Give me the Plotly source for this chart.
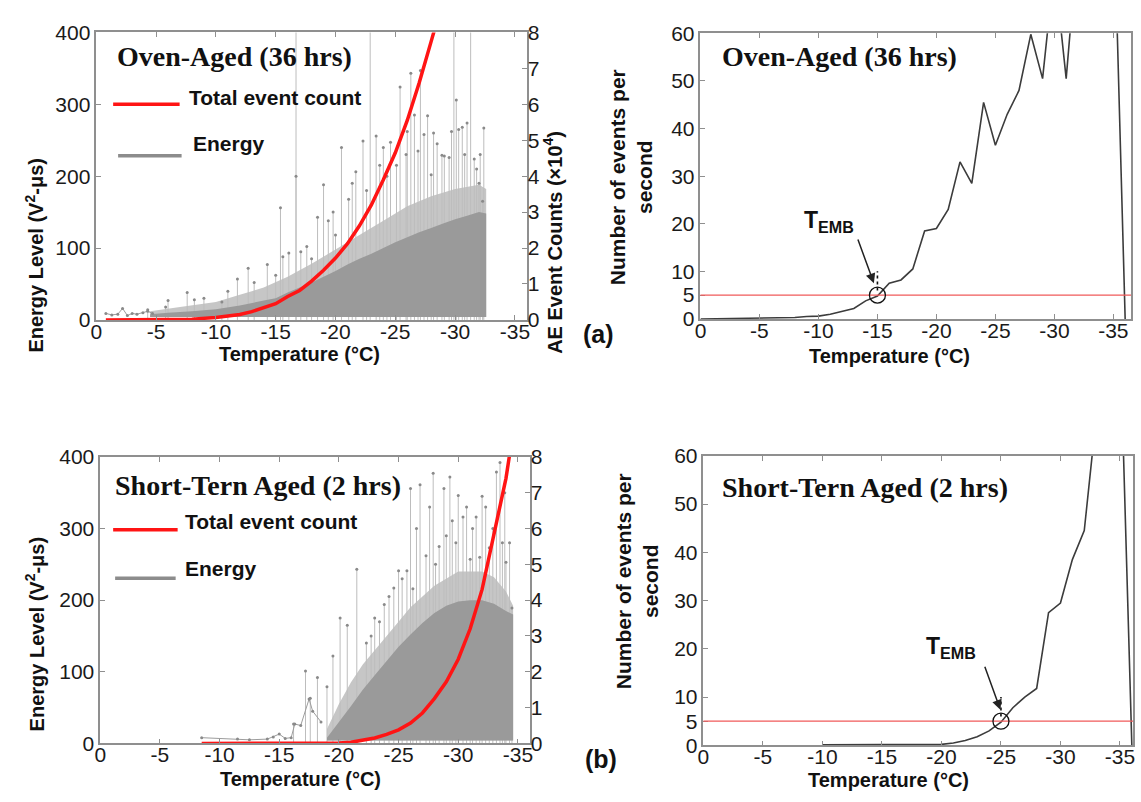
import plotly.graph_objects as go

# ---------------- data ----------------
X_TICKS = [0, -5, -10, -15, -20, -25, -30, -35]
X_TICK_LABELS = ["0", "-5", "-10", "-15", "-20", "-25", "-30", "-35"]
E_TICKS = [0, 100, 200, 300, 400]
C_TICKS = [0, 1, 2, 3, 4, 5, 6, 7, 8]
R_TICKS = [0, 5, 10, 20, 30, 40, 50, 60]
THRESHOLD = 5
T_EMB_A = -15
T_EMB_B = -25
ENERGY_FLOOR = 4

# (a) Oven-aged: cumulative AE event count (x10^4)
A_COUNT_T = [-0.8, -5, -8, -10, -11, -12, -13, -14, -15, -16, -17, -18, -19, -20,
             -21, -22, -23, -24, -25, -26, -27, -28, -28.3]
A_COUNT = [0, 0, 0.02, 0.07, 0.1, 0.15, 0.23, 0.33, 0.45, 0.65, 0.82, 1.08, 1.38, 1.72,
           2.12, 2.62, 3.2, 3.9, 4.65, 5.55, 6.6, 7.75, 8.1]
# (a) energy: dense band (upper edge) and lighter scattered band
A_DENSE_T = [-4.5, -6, -8, -10, -12, -14, -15, -16, -17, -18, -19, -20, -21, -22, -23,
             -24, -25, -26, -27, -28, -29, -30, -31, -32, -32.6]
A_DENSE_E = [8, 10, 12, 15, 20, 27, 30, 38, 45, 52, 60, 68, 77, 85, 92,
             100, 108, 115, 122, 128, 134, 140, 145, 150, 148]
A_FUZZ_T = [-4.5, -7, -10, -12, -14, -16, -18, -20, -22, -24, -26, -28, -30, -32, -32.6]
A_FUZZ_E = [12, 18, 25, 35, 45, 60, 78, 98, 118, 138, 158, 172, 182, 188, 182]
A_SPARSE_T = [-0.8, -1.3, -1.8, -2.2, -2.6, -3.0, -3.4, -3.9, -4.3, -4.7]
A_SPARSE_E = [9, 7, 8, 16, 6, 9, 8, 10, 12, 9]
A_SPIKE_T = [-4.3, -5.8, -6.0, -7.6, -8.2, -9.0, -10.5, -11.0, -11.8, -12.7, -13.2, -14.3,
             -15.0, -15.4, -15.6, -16.1, -16.7, -16.7, -17.1, -17.6, -18.0, -18.5, -19.0,
             -19.4, -20.0, -20.5, -21.1, -21.7, -22.3, -22.9, -23.4, -24.0, -24.6, -25.4,
             -25.9, -26.3, -26.6, -27.1, -27.7, -28.0, -28.5, -28.9, -29.5, -29.9, -30.1,
             -30.3, -31.0, -31.3, -31.6, -32.0, -32.3, -32.4,
             -19.8, -21.4, -22.6, -23.7, -24.3, -25.1, -26.0, -26.9, -27.4, -28.2, -29.1,
             -29.7, -30.6, -30.8, -31.8, -32.1]
A_SPIKE_E = [14, 18, 27, 38, 28, 30, 25, 40, 57, 72, 52, 77,
             62, 156, 88, 93, 200, 420, 95, 102, 85, 143, 188,
             138, 118, 240, 168, 206, 249, 420, 256, 240, 247, 324,
             230, 343, 285, 347, 284, 202, 245, 229, 226, 420, 306,
             265, 274, 420, 224, 190, 165, 267,
             150, 190, 180, 215, 200, 215, 262, 235, 258, 260, 228,
             262, 268, 230, 210, 230]

# (b) Short-term aged
B_COUNT_T = [-8.5, -15, -20, -21, -22, -23, -24, -25, -26, -27, -28, -29, -30, -31,
             -32, -33, -33.5, -34, -34.3]
B_COUNT = [0, 0, 0.01, 0.03, 0.08, 0.15, 0.25, 0.38, 0.57, 0.85, 1.25, 1.72, 2.35, 3.2,
           4.3, 5.8, 6.6, 7.4, 8.05]
B_DENSE_T = [-19, -20, -21, -22, -23, -24, -25, -26, -27, -28, -29, -30, -31, -32, -33,
             -34, -34.6]
B_DENSE_E = [8, 30, 52, 75, 95, 115, 135, 152, 168, 182, 192, 198, 200, 200, 195, 185, 180]
B_FUZZ_T = [-19, -20, -21, -22, -24, -26, -28, -30, -32, -33, -34, -34.6]
B_FUZZ_E = [20, 55, 85, 110, 150, 190, 220, 240, 240, 232, 212, 192]
B_SPARSE_T = [-8.5, -11.5, -12.5, -14.0, -14.5, -15.0, -15.5, -16.0, -16.3, -16.8, -17.5,
              -17.8, -18.5]
B_SPARSE_E = [8, 6, 5, 6, 9, 13, 7, 8, 27, 25, 62, 45, 30]
B_SPIKE_T = [-16.2, -17.2, -17.6, -18.2, -19.0, -19.5, -20.1, -20.7, -21.5, -22.3, -23.0,
             -23.8, -24.6, -25.0, -25.7, -26.0, -26.2, -26.8, -27.3, -27.9, -28.4, -28.8,
             -29.3, -29.5, -30.0, -30.4, -31.0, -31.5, -32.0, -32.6, -33.2, -33.5, -33.7,
             -34.0, -34.5,
             -22.7, -23.4, -24.2, -25.3, -26.5, -27.6, -28.1, -29.0, -29.8, -30.7, -31.2,
             -31.8, -32.3, -32.9, -33.9, -34.3]
B_SPIKE_E = [27, 101, 63, 92, 79, 122, 175, 165, 243, 140, 175,
             194, 217, 241, 241, 356, 216, 361, 262, 377, 275, 356,
             372, 311, 346, 316, 257, 316, 345, 273, 379, 392, 280,
             253, 189,
             150, 170, 205, 230, 300, 330, 250, 290, 280, 330, 300,
             260, 330, 300, 350, 280]

# events per second
A_RATE_T = [0, -2, -4, -6, -7, -8, -9, -10, -11, -12, -13, -14, -15, -16, -17, -18, -19,
            -20, -21, -22, -23, -24, -25, -26, -27, -28, -29, -30, -31, -32, -33, -34,
            -35, -36]
A_RATE = [0, 0.1, 0.1, 0.15, 0.2, 0.3, 0.5, 0.6, 1.0, 1.6, 2.2, 3.8, 4.8, 7.5, 8.2, 10.5,
          18.5, 19, 23, 33, 28.5, 45.5, 36.5, 43, 48, 59.8, 50.5, 74, 50.5, 80, 120, 150,
          90, 0]
B_RATE_T = [-10, -12, -14, -16, -18, -20, -21, -22, -23, -24, -25, -26, -27, -28, -29,
            -30, -31, -32, -33, -34, -35, -36]
B_RATE = [0.1, 0.1, 0.1, 0.1, 0.15, 0.2, 0.5, 1.0, 1.8, 3.0, 4.8, 7.8, 10, 11.8, 27.5,
          29.5, 38.5, 44.5, 68, 130, 86, 0]

# ---------------- helpers ----------------
W, H = 1141, 802


def px(x):
    return x / W


def py(y):
    return 1 - y / H


def stems(ts, es):
    xs, ys = [], []
    for t, e in zip(ts, es):
        xs += [t, t, None]
        ys += [0, e, None]
    return xs, ys


def band(ts, es, floor):
    return list(ts) + list(ts)[::-1], list(es) + [floor] * len(ts)


RED = "#ff1414"
DENSE = "#9a9a9a"
FUZZ = "#c6c6c6"
STEM = "#bdbdbd"
DOT = "#8a8a8a"
CURVE = "#3c3c3c"
AX = "#8f8f8f"
SANS = "Liberation Sans, Arial, sans-serif"
SERIF = "Liberation Serif, Times New Roman, serif"

fig = go.Figure()


def energy_panel(xa, ya, ya2, fuzz_t, fuzz_e, dense_t, dense_e, sp_t, sp_e,
                 spk_t, spk_e, cnt_t, cnt):
    bx, by = band(fuzz_t, fuzz_e, ENERGY_FLOOR)
    fig.add_trace(go.Scatter(x=bx, y=by, fill="toself", fillcolor=FUZZ, mode="none",
                             xaxis=xa, yaxis=ya, showlegend=False, hoverinfo="skip"))
    sx, sy = stems(spk_t, spk_e)
    fig.add_trace(go.Scatter(x=sx, y=sy, mode="lines", line=dict(color=STEM, width=1),
                             xaxis=xa, yaxis=ya, showlegend=False, hoverinfo="skip"))
    fig.add_trace(go.Scatter(x=spk_t, y=spk_e, mode="markers",
                             marker=dict(color=DOT, size=3),
                             xaxis=xa, yaxis=ya, showlegend=False))
    bx, by = band(dense_t, dense_e, ENERGY_FLOOR)
    fig.add_trace(go.Scatter(x=bx, y=by, fill="toself", fillcolor=DENSE, mode="none",
                             xaxis=xa, yaxis=ya, showlegend=False, hoverinfo="skip"))
    fig.add_trace(go.Scatter(x=sp_t, y=sp_e, mode="lines+markers",
                             line=dict(color="#9c9c9c", width=1),
                             marker=dict(color=DOT, size=3),
                             xaxis=xa, yaxis=ya, showlegend=False))
    fig.add_trace(go.Scatter(x=cnt_t, y=cnt, mode="lines",
                             line=dict(color=RED, width=3.5),
                             xaxis=xa, yaxis=ya2, showlegend=False))


energy_panel("x", "y", "y2", A_FUZZ_T, A_FUZZ_E, A_DENSE_T, A_DENSE_E,
             A_SPARSE_T, A_SPARSE_E, A_SPIKE_T, A_SPIKE_E, A_COUNT_T, A_COUNT)
energy_panel("x3", "y4", "y5", B_FUZZ_T, B_FUZZ_E, B_DENSE_T, B_DENSE_E,
             B_SPARSE_T, B_SPARSE_E, B_SPIKE_T, B_SPIKE_E, B_COUNT_T, B_COUNT)

fig.add_trace(go.Scatter(x=A_RATE_T, y=A_RATE, mode="lines",
                         line=dict(color=CURVE, width=1.6),
                         xaxis="x2", yaxis="y3", showlegend=False))
fig.add_trace(go.Scatter(x=B_RATE_T, y=B_RATE, mode="lines",
                         line=dict(color=CURVE, width=1.6),
                         xaxis="x4", yaxis="y6", showlegend=False))

tickfont = dict(family=SANS, size=21, color="#1a1a1a")


def xax(dom, anchor, rng):
    return dict(domain=dom, anchor=anchor, range=rng, tickmode="array",
                tickvals=X_TICKS, ticktext=X_TICK_LABELS, ticks="inside", ticklen=5,
                tickcolor=AX, showline=True, linecolor=AX, linewidth=1.5, mirror="ticks",
                showgrid=False, zeroline=False, tickfont=tickfont, ticklabelstandoff=-8)


def yax(dom, anchor, rng, vals):
    return dict(domain=dom, anchor=anchor, range=rng, tickmode="array", tickvals=vals,
                ticktext=[str(v) for v in vals], ticks="inside", ticklen=5,
                tickcolor=AX, showline=True, linecolor=AX, linewidth=1.5, mirror=True,
                showgrid=False, zeroline=False, tickfont=tickfont)


def y2ax(over, anchor, rng):
    return dict(overlaying=over, anchor=anchor, side="right", range=rng,
                tickmode="array", tickvals=C_TICKS,
                ticktext=[str(v) for v in C_TICKS], ticks="inside", ticklen=5,
                tickcolor=AX, showline=False, showgrid=False, zeroline=False,
                tickfont=tickfont)


fig.update_layout(
    width=W, height=H, margin=dict(l=0, r=0, t=0, b=0),
    paper_bgcolor="white", plot_bgcolor="white", showlegend=False,
    xaxis=xax([px(91), px(525)], "y", [0, -36]),
    yaxis=yax([py(317), py(21)], "x", [0, 400], E_TICKS),
    yaxis2=y2ax("y", "x", [0, 8]),
    xaxis2=xax([px(700), px(1134)], "y3", [0, -36.5]),
    yaxis3=yax([py(316), py(22)], "x2", [0, 60], R_TICKS),
    xaxis3=xax([px(95), px(528)], "y4", [0, -36]),
    yaxis4=yax([py(753), py(458)], "x3", [0, 400], E_TICKS),
    yaxis5=y2ax("y4", "x3", [0, 8]),
    xaxis4=xax([px(703), px(1136)], "y6", [0, -36.1]),
    yaxis6=yax([py(755), py(457)], "x4", [0, 60], R_TICKS),
)

shapes = []
ann = []


def txt(x, y, text, size, serif=False, angle=0, xanchor="center"):
    ann.append(dict(xref="paper", yref="paper", x=px(x), y=py(y), text=text,
                    showarrow=False, xanchor=xanchor, yanchor="middle",
                    textangle=angle,
                    font=dict(family=SERIF if serif else SANS, size=size, color="#111")))


# titles
txt(230, 46, "<b>Oven-Aged (36 hrs)</b>", 28, serif=True)
txt(840, 46, "<b>Oven-Aged (36 hrs)</b>", 28, serif=True)
txt(254, 487, "<b>Short-Tern Aged (2 hrs)</b>", 28, serif=True)
txt(866, 490, "<b>Short-Tern Aged (2 hrs)</b>", 28, serif=True)

# legends
for (x0, x1, yl, col), (tx, ty, t) in [
        ((108, 175, 95, RED), (182, 88, "Total event count")),
        ((113, 177, 148, "#8c8c8c"), (186, 135, "Energy")),
        ((108, 173, 533, RED), (178, 525, "Total event count")),
        ((110, 171, 583, "#8c8c8c"), (178, 573, "Energy"))]:
    shapes.append(dict(type="line", xref="paper", yref="paper", x0=px(x0), x1=px(x1),
                       y0=py(yl), y1=py(yl), line=dict(color=col, width=3.5)))
    txt(tx, ty, "<b>" + t + "</b>", 21, xanchor="left")

# axis titles
txt(296, 352, "<b>Temperature (°C)</b>", 20)
txt(297, 790, "<b>Temperature (°C)</b>", 20)
txt(891, 354, "<b>Temperature (°C)</b>", 20)
txt(890, 791, "<b>Temperature (°C)</b>", 20)
txt(29, 250, "<b>Energy Level (V<sup>2</sup>-μs)</b>", 20, angle=-90)
txt(29, 640, "<b>Energy Level (V<sup>2</sup>-μs)</b>", 20, angle=-90)
txt(551, 237, "<b>AE Event Counts (×10<sup>4</sup>)</b>", 20, angle=-90)
txt(630, 170, "<b>Number of events per<br>second</b>", 21, angle=-90)
txt(636, 586, "<b>Number of events per<br>second</b>", 21, angle=-90)
txt(597, 332, "<b>(a)</b>", 25)
txt(600, 769, "<b>(b)</b>", 25)

# threshold lines, circles, arrows, T_EMB labels
for xa, ya, temb, tail, head, lab in [
        ("x2", "y3", T_EMB_A, (-13.3, 17.0), (-14.7, 7.5), (-10.9, 20.4)),
        ("x4", "y6", T_EMB_B, (-23.6, 16.6), (-24.95, 7.4), (-20.8, 20.2))]:
    shapes.append(dict(type="line", xref=xa + " domain", yref=ya, x0=0, x1=1,
                       y0=THRESHOLD, y1=THRESHOLD,
                       line=dict(color="rgb(240,90,90)", width=1.2)))
    shapes.append(dict(type="circle", xref=xa, yref=ya, xsizemode="pixel",
                       ysizemode="pixel", xanchor=temb, yanchor=THRESHOLD,
                       x0=-8, x1=8, y0=-8, y1=8, line=dict(color="#111", width=1.3)))
    shapes.append(dict(type="line", xref=xa, yref=ya, x0=temb, x1=temb, y0=6, y1=10,
                       line=dict(color="#111", width=1.6, dash="dot")))
    ann.append(dict(xref=xa, yref=ya, axref=xa, ayref=ya, x=head[0], y=head[1],
                    ax=tail[0], ay=tail[1], text="", showarrow=True, arrowhead=2,
                    arrowsize=1.3, arrowwidth=1.5, arrowcolor="#222", standoff=0))
    ann.append(dict(xref=xa, yref=ya, x=lab[0], y=lab[1],
                    text="<b>T<sub>EMB</sub></b>", showarrow=False,
                    font=dict(family=SANS, size=23, color="#111")))

fig.update_layout(shapes=shapes, annotations=ann)
fig.write_html("out.html")
